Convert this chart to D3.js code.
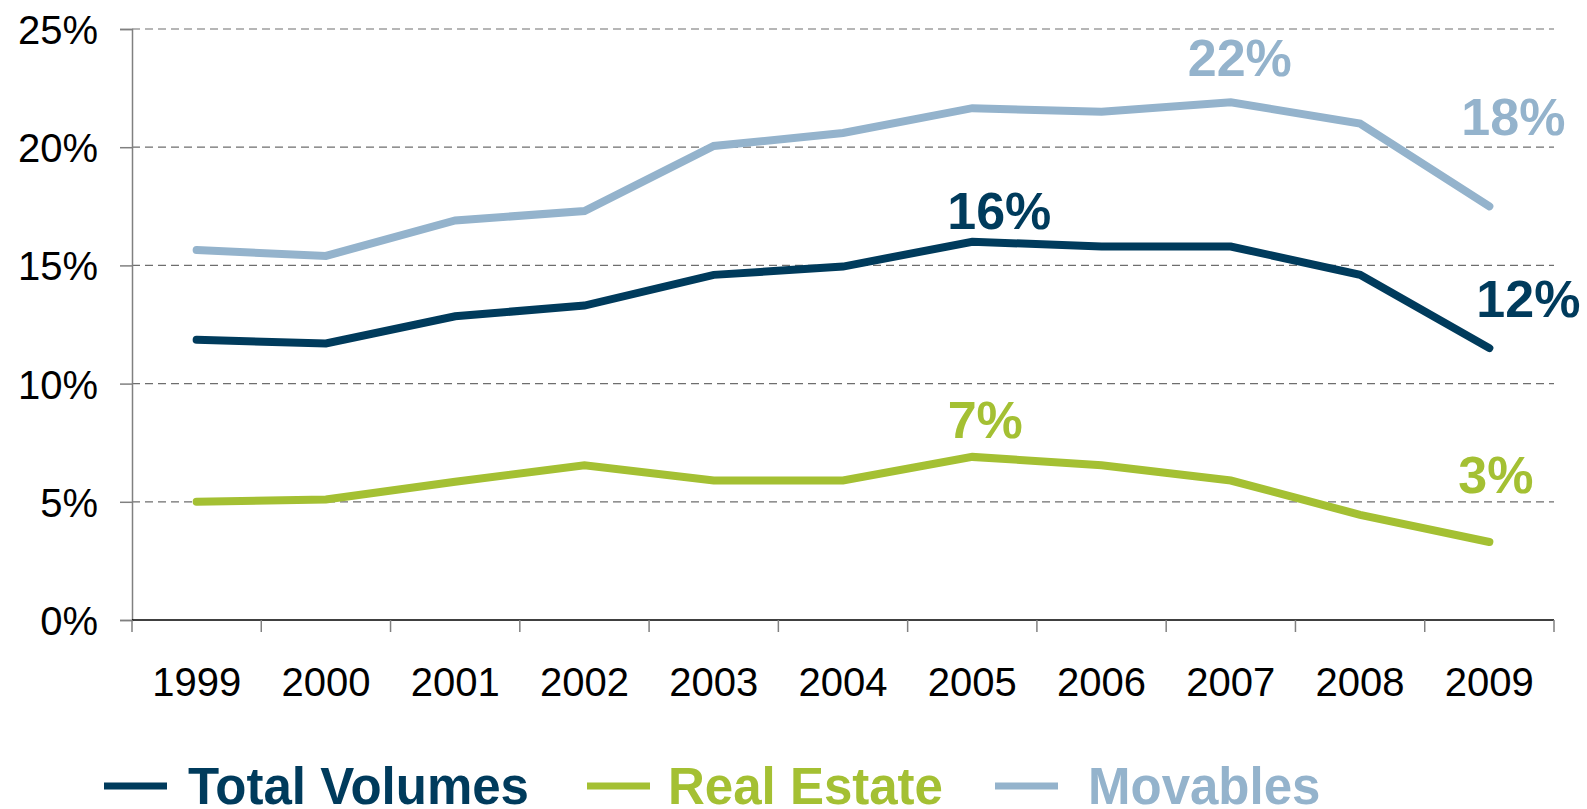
<!DOCTYPE html>
<html>
<head>
<meta charset="utf-8">
<script src="https://cdn.jsdelivr.net/npm/d3@7"></script>
<style>
  body { margin: 0; background: #fff; }
  text { font-family: "Liberation Sans", Arial, sans-serif; }
</style>
</head>
<body>
<div id="chart"></div>
<script>
// Data (percent)
var years = ["1999", "2000", "2001", "2002", "2003", "2004", "2005", "2006", "2007", "2008", "2009"];
var totalVolumes = [11.85, 11.7, 12.85, 13.3, 14.6, 14.95, 16.0, 15.8, 15.8, 14.6, 11.5];
var realEstate = [5.0, 5.1, 5.85, 6.55, 5.9, 5.9, 6.9, 6.55, 5.9, 4.45, 3.3];
var movables = [15.65, 15.4, 16.9, 17.3, 20.05, 20.6, 21.65, 21.5, 21.9, 21.0, 17.5];
var yTicks = [0, 5, 10, 15, 20, 25];
var seriesNames = ["Total Volumes", "Real Estate", "Movables"];

// point labels: series, year index, text
var pointLabels = [
  { s: 0, i: 6, text: "16%" },
  { s: 0, i: 10, text: "12%" },
  { s: 1, i: 6, text: "7%" },
  { s: 1, i: 10, text: "3%" },
  { s: 2, i: 8, text: "22%" },
  { s: 2, i: 10, text: "18%" }
];

var colors = ["#003b5c", "#a4c033", "#94b3cc"];
// label offsets from the data point [dx, dy, anchor]
var labelOffsets = [
  [27, -13, "middle"],
  [-13, -31, "start"],
  [13, -19, "middle"],
  [-31, -49, "start"],
  [9, -26, "middle"],
  [-28, -71, "start"]
];

var svgWidth = 1587;
var svgHeight = 809;
var margin = { top: 29, right: 33, bottom: 189, left: 132 };
var width = svgWidth - margin.left - margin.right;
var height = svgHeight - margin.top - margin.bottom;

var svg = d3.select("#chart")
  .append("svg")
  .attr("width", svgWidth)
  .attr("height", svgHeight);

var chartGroup = svg.append("g")
  .attr("transform", `translate(${margin.left}, ${margin.top})`);

var xScale = d3.scaleBand()
  .domain(years)
  .range([0, width]);

var yScale = d3.scaleLinear()
  .domain([0, 25])
  .range([height, 0]);

// dashed gridlines
chartGroup.selectAll(".grid")
  .data(yTicks.filter(d => d > 0))
  .enter()
  .append("line")
  .attr("x1", 0)
  .attr("x2", width)
  .attr("y1", d => yScale(d))
  .attr("y2", d => yScale(d))
  .attr("stroke", "#6e6e6e")
  .attr("stroke-width", 1.2)
  .attr("stroke-dasharray", "8,5");

// y axis
var leftAxis = d3.axisLeft(yScale)
  .tickValues(yTicks)
  .tickSize(12)
  .tickPadding(22)
  .tickFormat(d => d + "%");
var yAxis = chartGroup.append("g").call(leftAxis);
yAxis.select(".domain").attr("stroke", "#808080").attr("stroke-width", 1.5);
yAxis.selectAll(".tick line").attr("stroke", "#808080").attr("stroke-width", 1.5);
yAxis.selectAll(".tick text")
  .attr("font-size", 40)
  .attr("fill", "#000")
  .attr("dy", "0.36em");

// x axis
var xTickPos = d3.range(years.length + 1).map(i => i * xScale.bandwidth());
chartGroup.append("line")
  .attr("x1", 0)
  .attr("x2", width)
  .attr("y1", height)
  .attr("y2", height)
  .attr("stroke", "#000")
  .attr("stroke-width", 1.5);
chartGroup.selectAll(".xtick")
  .data(xTickPos)
  .enter()
  .append("line")
  .attr("x1", d => d)
  .attr("x2", d => d)
  .attr("y1", height)
  .attr("y2", height + 12)
  .attr("stroke", "#808080")
  .attr("stroke-width", 1.5);
chartGroup.selectAll(".xlabel")
  .data(years)
  .enter()
  .append("text")
  .attr("x", d => xScale(d) + xScale.bandwidth() / 2)
  .attr("y", height + 76)
  .attr("text-anchor", "middle")
  .attr("font-size", 40)
  .attr("fill", "#000")
  .text(d => d);

// lines
var allSeries = [totalVolumes, realEstate, movables];
var line = d3.line()
  .x((d, i) => xScale(years[i]) + xScale.bandwidth() / 2)
  .y(d => yScale(d));

// draw movables first so total sits on top
[2, 1, 0].forEach(function(s) {
  chartGroup.append("path")
    .datum(allSeries[s])
    .attr("d", line)
    .attr("fill", "none")
    .attr("stroke", colors[s])
    .attr("stroke-width", 8)
    .attr("stroke-linecap", "round")
    .attr("stroke-linejoin", "miter");
});

// point labels
pointLabels.forEach(function(p, k) {
  var off = labelOffsets[k];
  chartGroup.append("text")
    .attr("x", xScale(years[p.i]) + xScale.bandwidth() / 2 + off[0])
    .attr("y", yScale(allSeries[p.s][p.i]) + off[1])
    .attr("text-anchor", off[2])
    .attr("font-size", 52)
    .attr("font-weight", "bold")
    .attr("fill", colors[p.s])
    .text(p.text);
});

// legend
var legendLineX = [104, 587, 995];
var legendTextX = [188, 668, 1088];
var legend = svg.append("g");
seriesNames.forEach(function(name, i) {
  legend.append("line")
    .attr("x1", legendLineX[i])
    .attr("x2", legendLineX[i] + 63)
    .attr("y1", 786)
    .attr("y2", 786)
    .attr("stroke", colors[i])
    .attr("stroke-width", 7);
  legend.append("text")
    .attr("x", legendTextX[i])
    .attr("y", 804)
    .attr("font-size", 51)
    .attr("font-weight", "bold")
    .attr("fill", colors[i])
    .text(name);
});
</script>
</body>
</html>
